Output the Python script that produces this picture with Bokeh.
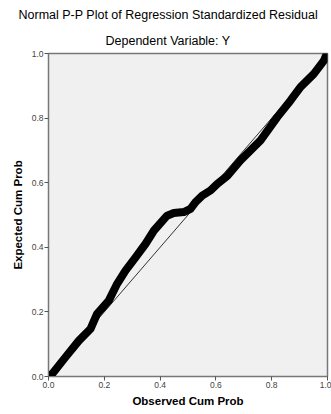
from bokeh.plotting import figure
from bokeh.models import Range1d, Title, FixedTicker, CustomJSTickFormatter
from bokeh.embed import file_html
from bokeh.resources import INLINE

# Observed vs expected cumulative probabilities
observed = [0.005, 0.013, 0.061, 0.109, 0.151, 0.174, 0.216, 0.246, 0.276, 0.312,
            0.348, 0.378, 0.425, 0.449, 0.485, 0.509, 0.527, 0.551, 0.581, 0.605,
            0.640, 0.688, 0.760, 0.820, 0.867, 0.903, 0.951, 0.987, 0.997]
expected = [0.000, 0.008, 0.060, 0.111, 0.148, 0.194, 0.235, 0.287, 0.328, 0.369,
            0.411, 0.452, 0.498, 0.506, 0.509, 0.519, 0.540, 0.560, 0.576, 0.596,
            0.620, 0.669, 0.731, 0.803, 0.854, 0.896, 0.937, 0.978, 0.998]
ref_x = [0.0, 1.0]
ref_y = [0.0, 1.0]
ticks = [0.0, 0.2, 0.4, 0.6, 0.8, 1.0]

FONT = "Liberation Sans"

p = figure(width=331, height=414, output_backend="svg", toolbar_location=None,
           x_range=Range1d(0, 1), y_range=Range1d(0, 1),
           min_border_left=48, min_border_right=4, min_border_bottom=38, min_border_top=53)

p.title.text = "Normal P-P Plot of Regression Standardized Residual"
p.title.align = "left"
p.title.offset = -30
p.title.text_font = FONT
p.title.text_font_size = "12.5px"
p.title.text_font_style = "normal"
p.title.text_color = "#000000"
p.title.standoff = 9
p.add_layout(Title(text="Dependent Variable: Y",
                   align="left", offset=57, text_font=FONT, text_font_size="12.5px",
                   text_font_style="normal", text_color="#000000", standoff=11), "above")

p.background_fill_color = "#f0f0f0"
p.border_fill_color = "white"
p.outline_line_color = "#777777"
p.outline_line_width = 1.5
p.grid.visible = False

for ax in (p.xaxis[0], p.yaxis[0]):
    ax.ticker = FixedTicker(ticks=ticks)
    ax.major_label_text_font = FONT
    ax.major_label_text_font_size = "8.5px"
    ax.major_label_text_color = "#444444"
    ax.axis_line_color = "#777777"
    ax.major_tick_line_color = "#555555"
    ax.major_tick_in = 0
    ax.major_tick_out = 4
    ax.minor_tick_line_color = None
    ax.axis_label_text_font = FONT
    ax.axis_label_text_font_size = "11.5px"
    ax.axis_label_text_font_style = "bold"
    ax.axis_label_text_color = "#000000"

fmt = CustomJSTickFormatter(code="return tick.toFixed(1);")
p.xaxis.formatter = fmt
p.yaxis.formatter = fmt
p.xaxis.axis_label = "Observed Cum Prob"
p.yaxis.axis_label = "Expected Cum Prob"
p.xaxis.axis_label_standoff = 4
p.yaxis.axis_label_standoff = 5
p.xaxis.major_label_standoff = 1
p.yaxis.major_label_standoff = 1

p.line(ref_x, ref_y, line_color="#333333", line_width=1)
p.line(observed, expected, line_color="black", line_width=8,
       line_join="round", line_cap="round")

open("out.html", "w").write(file_html(p, INLINE))
